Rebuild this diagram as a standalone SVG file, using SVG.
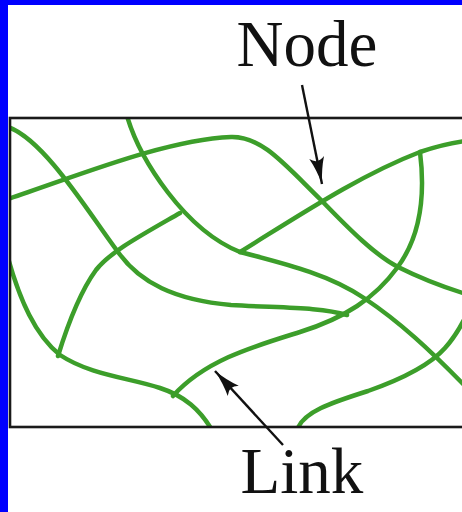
<svg xmlns="http://www.w3.org/2000/svg" width="462" height="512" viewBox="0 0 462 512">
<style>
.link{fill:none;stroke:#3c9e2a;stroke-width:4.5;stroke-linecap:round}
.frame{fill:none;stroke:#1a1a1a;stroke-width:2.6}
.lbl{font-family:"Liberation Serif","Times New Roman",serif;font-size:65px;fill:#111;text-anchor:middle}
.arrow{fill:none;stroke:#111;stroke-width:2.4}
</style>
<defs>
<clipPath id="box"><rect x="10" y="118" width="460" height="309"/></clipPath>
<marker id="ah" markerUnits="userSpaceOnUse" markerWidth="30" markerHeight="18" refX="27" refY="9" orient="auto">
<path d="M0,1.5 Q12,6.5 27,9 Q12,11.5 0,16.5 Q7,9 0,1.5 Z" fill="#111"/>
</marker>
</defs>
<rect x="0" y="0" width="462" height="512" fill="#ffffff"/>
<g id="network" clip-path="url(#box)">
<path id="curveA" class="link" d="M8,127 C45,140 90,215 118,252 C140,283 175,300 231,305 C280,308 320,307 347,315"/>
<path id="curveB" class="link" d="M127,116 C140,160 185,230 240,252 C290,265 330,275 364,298 C400,322 430,350 466,387"/>
<path id="curveC" class="link" d="M180,213 C140,236 110,252 96,270 C80,292 66,330 58,356"/>
<path id="curveD" class="link" d="M8,258 C20,300 35,335 60,355 C90,375 130,378 160,388 C185,396 200,410 212,430"/>
<path id="curveE" class="link" d="M420,152 C426,200 418,240 397,268 C375,298 345,318 300,332 C255,346 205,360 173,396"/>
<path id="curveT" class="link" d="M8,199 C80,175 165,140 231,137 C262,136 285,165 321,200 C350,230 375,255 398,267 C420,278 440,286 466,294"/>
<path id="curveR" class="link" d="M240,252 C300,215 360,175 420,152 C435,147 450,143 466,141"/>
<path id="curveF" class="link" d="M297,430 C303,412 330,403 368,391 C405,378 430,365 445,348 C455,337 460,328 466,316"/>
</g>
<rect class="frame" x="10" y="118" width="470" height="309"/>
<rect x="0" y="0" width="8" height="512" fill="#0000ff"/>
<rect x="0" y="0" width="462" height="5" fill="#0000ff"/>
<g id="node-label">
<text class="lbl" x="307" y="66">Node</text>
</g>
<g id="link-label">
<text class="lbl" x="302" y="493">Link</text>
</g>
<g id="connectors">
<line class="arrow" x1="302" y1="85" x2="322" y2="184" marker-end="url(#ah)"/>
<line class="arrow" x1="283" y1="445" x2="215" y2="371" marker-end="url(#ah)"/>
</g>
</svg>
